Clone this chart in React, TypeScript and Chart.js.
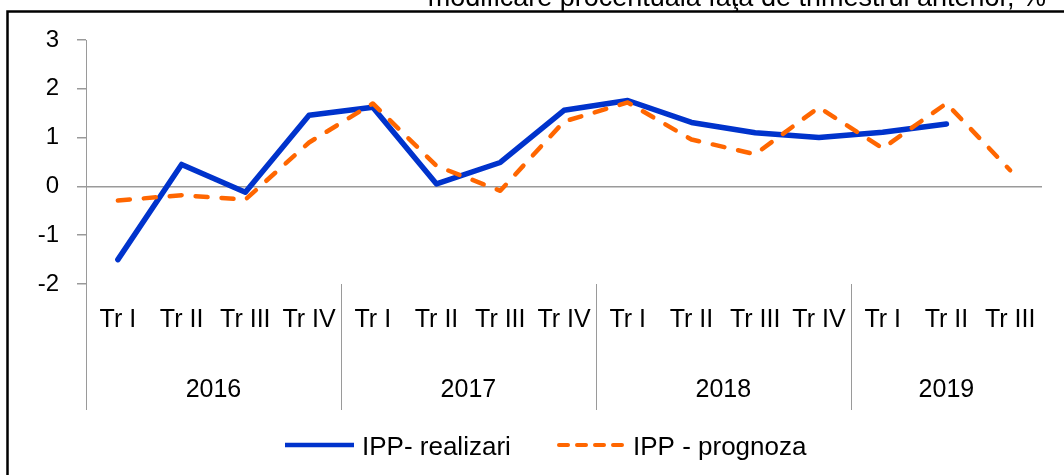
import React, { useEffect, useRef } from 'react';
import { Chart, registerables } from 'chart.js';

Chart.register(...registerables);

const quarters = [
  'Tr I', 'Tr II', 'Tr III', 'Tr IV',
  'Tr I', 'Tr II', 'Tr III', 'Tr IV',
  'Tr I', 'Tr II', 'Tr III', 'Tr IV',
  'Tr I', 'Tr II', 'Tr III',
];
const years = ['2016', '2017', '2018', '2019'];
const yearSpans = [4, 4, 4, 3];
const realizari: (number | null)[] = [
  -1.5, 0.45, -0.12, 1.46,
  1.62, 0.05, 0.49, 1.56,
  1.76, 1.31, 1.1, 1.0,
  1.11, 1.28, null,
];
const prognoza: (number | null)[] = [
  -0.29, -0.18, -0.27, 0.9,
  1.7, 0.42, -0.09, 1.33,
  1.72, 0.96, 0.66, 1.62,
  0.78, 1.7, 0.33,
];
const yMin = -2;
const yMax = 3;
const titleText = 'modificare procentuală faţă de trimestrul anterior, %';
const legendLabels = ['IPP- realizari', 'IPP - prognoza'];

const FONT = "'Liberation Sans', Arial, Helvetica, sans-serif";
const BLUE = '#0033CC';
const ORANGE = '#FF6600';
const GRAY = '#9A9A9A';

const decorPlugin = {
  id: 'decor',
  afterDraw(chart: any) {
    const { ctx, chartArea } = chart;
    const x = chart.scales.x;
    ctx.save();

    // outer frame (top and left edges)
    ctx.strokeStyle = '#000';
    ctx.lineWidth = 2.5;
    ctx.beginPath();
    ctx.moveTo(7.5, 475);
    ctx.lineTo(7.5, 11.5);
    ctx.lineTo(1064, 11.5);
    ctx.stroke();

    // title (partly cut off at top)
    ctx.fillStyle = '#000';
    ctx.font = `27px ${FONT}`;
    ctx.textAlign = 'right';
    ctx.textBaseline = 'alphabetic';
    ctx.fillText(titleText, 1046, 6);

    // year separators and labels
    const step = x.getPixelForValue(1) - x.getPixelForValue(0);
    ctx.strokeStyle = GRAY;
    ctx.lineWidth = 1;
    let start = 0;
    ctx.font = `25px ${FONT}`;
    ctx.textAlign = 'center';
    years.forEach((yr, i) => {
      const end = start + yearSpans[i] - 1;
      const bx = Math.round(x.getPixelForValue(start) - step / 2) + 0.5;
      ctx.beginPath();
      ctx.moveTo(bx, chartArea.bottom);
      ctx.lineTo(bx, 410);
      ctx.stroke();
      const cx = (x.getPixelForValue(start) + x.getPixelForValue(end)) / 2;
      ctx.fillText(yr, cx, 396.5);
      start = end + 1;
    });

    // legend
    ctx.lineCap = 'butt';
    ctx.strokeStyle = BLUE;
    ctx.lineWidth = 4.5;
    ctx.beginPath();
    ctx.moveTo(285, 445);
    ctx.lineTo(354, 445);
    ctx.stroke();

    ctx.strokeStyle = ORANGE;
    ctx.lineWidth = 4;
    ctx.lineCap = 'round';
    ctx.setLineDash([9, 9]);
    ctx.beginPath();
    ctx.moveTo(559, 445);
    ctx.lineTo(625, 445);
    ctx.stroke();
    ctx.setLineDash([]);

    ctx.fillStyle = '#000';
    ctx.font = `26px ${FONT}`;
    ctx.textAlign = 'left';
    ctx.fillText(legendLabels[0], 362, 455);
    ctx.fillText(legendLabels[1], 633, 455);

    ctx.restore();
  },
};

export default function App() {
  const ref = useRef<HTMLCanvasElement | null>(null);

  useEffect(() => {
    document.body.style.margin = '0';
    const canvas = ref.current;
    if (!canvas) return;
    const chart = new Chart(canvas, {
      type: 'line',
      data: {
        labels: quarters,
        datasets: [
          {
            label: legendLabels[0],
            data: realizari,
            borderColor: BLUE,
            backgroundColor: BLUE,
            borderWidth: 5.5,
            pointRadius: 0,
            tension: 0,
            borderJoinStyle: 'round',
            borderCapStyle: 'round',
            spanGaps: false,
            order: 2,
          },
          {
            label: legendLabels[1],
            data: prognoza,
            borderColor: ORANGE,
            backgroundColor: ORANGE,
            borderWidth: 4.5,
            borderDash: [12, 14],
            borderCapStyle: 'round',
            borderJoinStyle: 'round',
            pointRadius: 0,
            tension: 0,
            order: 1,
          },
        ],
      },
      options: {
        responsive: false,
        animation: false,
        layout: { padding: { top: 40, right: 22, left: 0, bottom: 0 } },
        plugins: {
          legend: { display: false },
          tooltip: { enabled: false },
          title: { display: false },
        },
        scales: {
          x: {
            type: 'category',
            offset: true,
            grid: { display: false, drawTicks: false },
            border: { display: false },
            ticks: {
              color: '#000',
              font: { family: FONT, size: 25 },
              maxRotation: 0,
              autoSkip: false,
              padding: 21,
            },
            afterFit(scale: any) {
              scale.height = 475 - 284;
            },
          },
          y: {
            min: yMin,
            max: yMax,
            ticks: {
              stepSize: 1,
              color: '#000',
              font: { family: FONT, size: 24 },
              padding: 18,
            },
            grid: {
              color: (c: any) => (c.tick && c.tick.value === 0 ? GRAY : 'rgba(0,0,0,0)'),
              tickColor: GRAY,
              tickLength: 9,
              lineWidth: 1.5,
            },
            border: { display: true, color: GRAY, width: 1 },
            afterFit(scale: any) {
              scale.width = 86;
            },
          },
        },
      },
      plugins: [decorPlugin],
    });
    return () => chart.destroy();
  }, []);

  return (
    <div style={{ width: 1064, height: 475, position: 'relative', background: '#fff' }}>
      <canvas ref={ref} width={1064} height={475} style={{ display: 'block' }} />
    </div>
  );
}
